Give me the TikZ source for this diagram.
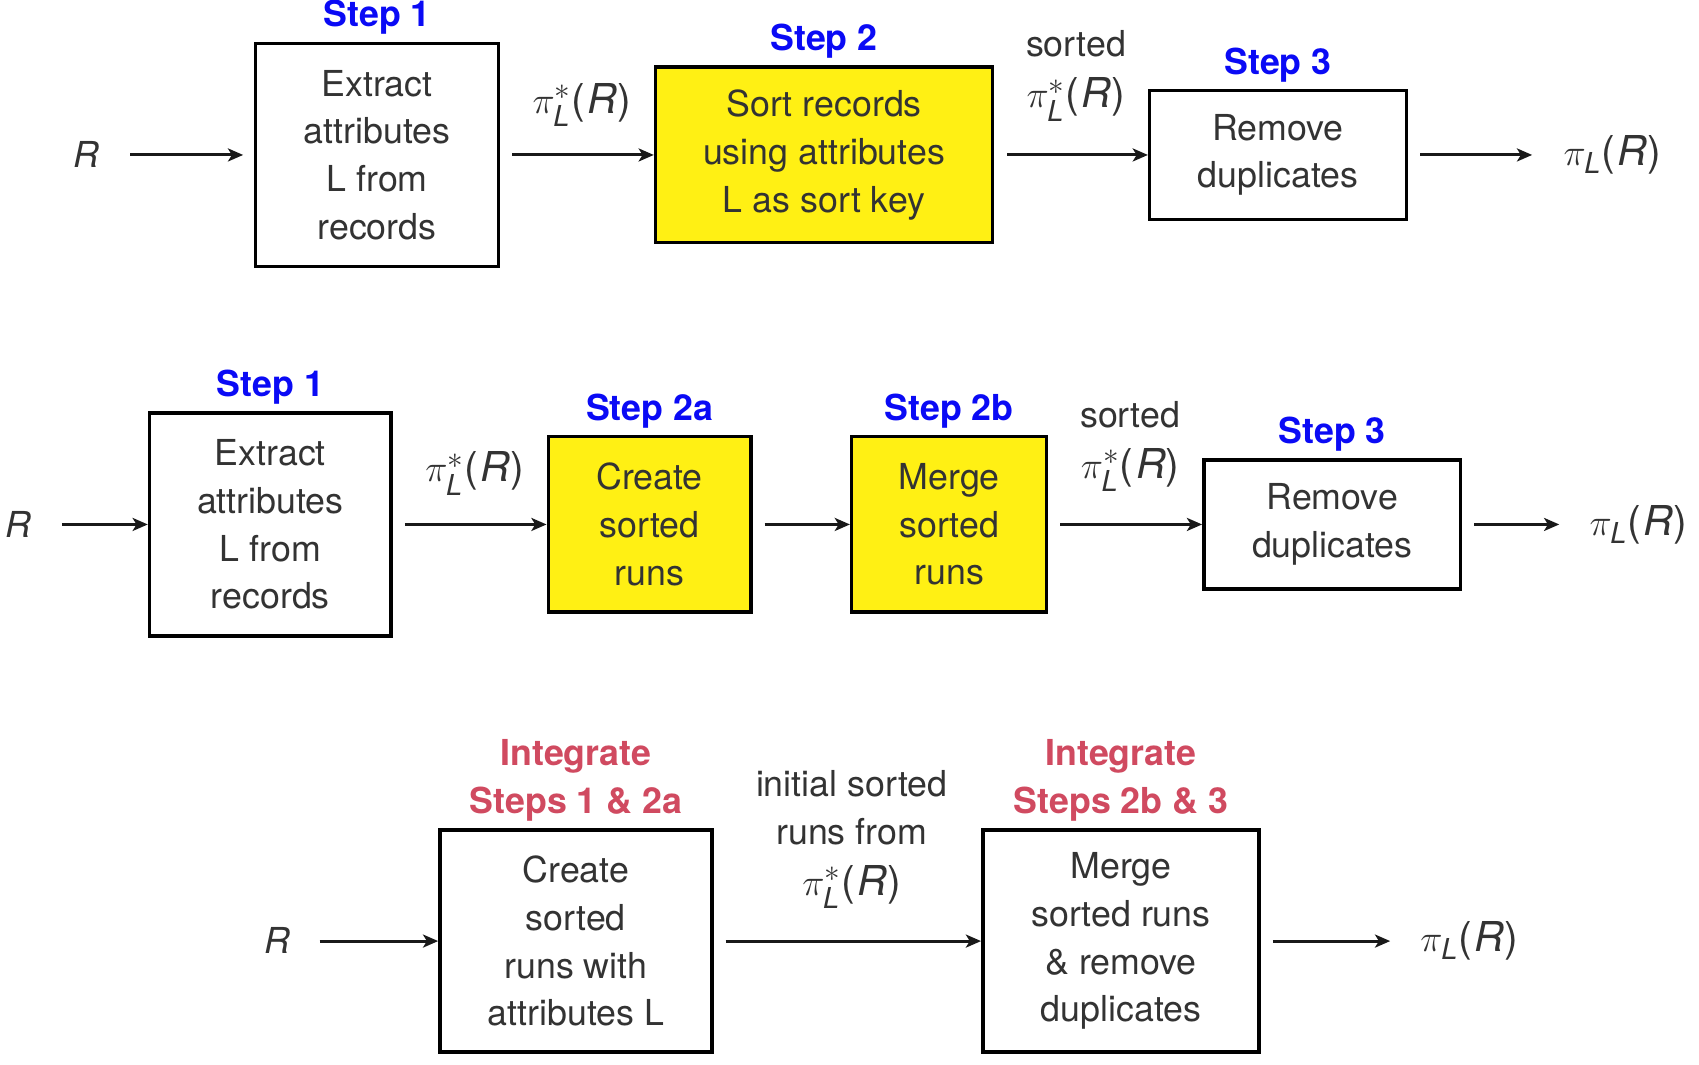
\documentclass[tikz,border=0pt]{standalone}
\usepackage{amsmath}
\usepackage{fontspec}
\setmainfont{TeX Gyre Heros}
\usetikzlibrary{arrows.meta,calc}
\definecolor{txt}{HTML}{333333}
\definecolor{stepblue}{HTML}{0A0AF5}
\definecolor{intred}{HTML}{D04A60}
\definecolor{boxyellow}{RGB}{255,240,20}
\newcommand{\mth}[1]{{\fontsize{19}{22}\selectfont #1}}
\newcommand{\pis}{\mth{$\pi^{*}_{\textit{L}}$(\kern1.2pt\textit{R})}}
\newcommand{\pil}{\mth{$\pi_{\textit{L}}$(\kern1.2pt\textit{R})}}
\tikzset{
  base font/.style={font=\fontsize{16.5}{22}\selectfont},
  box/.style={draw=black, line width=1.6pt, base font, text=txt, align=center, inner sep=0pt},
  ybox/.style={box, fill=boxyellow},
  plain/.style={base font, text=txt, align=center, inner sep=0pt},
  steplab/.style={font=\fontsize{16.5}{22}\selectfont\bfseries, text=stepblue, align=center, inner sep=0pt, anchor=south, yshift=3pt},
  intlab/.style={steplab, text=intred},
  arr/.style={-{Stealth[length=7pt,width=6pt,inset=1.8pt]}, line width=1.4pt, black!90}
}
\begin{document}
\begin{tikzpicture}[x=0.5pt,y=-0.5pt]
\useasboundingbox (0,0) rectangle (1568,982);
% ---------------- Row 1 ----------------
\node[plain] (r1in) at (80,143) {\textit{R}};
\node[box, minimum width=112pt, minimum height=103pt] (b11) at (348,143) {Extract\\attributes\\L from\\records};
\node[ybox, minimum width=155.5pt, minimum height=81pt] (b12) at (760.5,143) {Sort records\\using attributes\\L as sort key};
\node[box, minimum width=118.5pt, minimum height=59.5pt] (b13) at (1179.5,143) {Remove\\duplicates};
\node[plain] (r1out) at (1488,143) {\pil};
\node[steplab] (s11) at (b11.north) {Step 1};
\node[steplab] (s12) at (b12.north) {Step 2};
\node[steplab] (s13) at (b13.north) {Step 3};
\node[plain] (l11) at (537,97) {\pis};
\node[plain] (l12) at (993,70) {sorted\\[1.5pt]\pis};
\draw[arr] ($(b11.west -| r1in.center)+(20pt,0)$) -- ([xshift=-5pt]b11.west);
\draw[arr] ([xshift=5.5pt]b11.east) -- (b12.west);
\draw[arr] ([xshift=6pt]b12.east) -- (b13.west);
\draw[arr] ([xshift=5.5pt]b13.east) -- ($(b13.east -| r1out.center)+(-37pt,0)$);
% ---------------- Row 2 ----------------
\node[plain] (r2in) at (17,484) {\textit{R}};
\node[box, minimum width=111.5pt, minimum height=103pt] (b21) at (249.5,484) {Extract\\attributes\\L from\\records};
\node[ybox, minimum width=93.5pt, minimum height=81pt] (b22) at (599.5,484) {Create\\sorted\\runs};
\node[ybox, minimum width=90pt, minimum height=81pt] (b23) at (876,484) {Merge\\sorted\\runs};
\node[box, minimum width=118.5pt, minimum height=59.5pt] (b24) at (1229.5,484) {Remove\\duplicates};
\node[plain] (r2out) at (1512,484) {\pil};
\node[steplab] (s21) at (b21.north) {Step 1};
\node[steplab] (s22) at (b22.north) {Step 2a};
\node[steplab] (s23) at (b23.north) {Step 2b};
\node[steplab] (s24) at (b24.north) {Step 3};
\node[plain] (l21) at (438,437) {\pis};
\node[plain] (l22) at (1043,412) {sorted\\[1.5pt]\pis};
\draw[arr] ($(b21.west -| r2in.center)+(20pt,0)$) -- (b21.west);
\draw[arr] ([xshift=5.5pt]b21.east) -- (b22.west);
\draw[arr] ([xshift=5.5pt]b22.east) -- (b23.west);
\draw[arr] ([xshift=5.5pt]b23.east) -- (b24.west);
\draw[arr] ([xshift=5.5pt]b24.east) -- ($(b24.east -| r2out.center)+(-36.5pt,0)$);
% ---------------- Row 3 ----------------
\node[plain] (r3in) at (256,868) {\textit{R}};
\node[box, minimum width=125.5pt, minimum height=102.5pt] (b31) at (531.5,868.5) {Create\\sorted\\runs with\\attributes L};
\node[box, minimum width=127.5pt, minimum height=102.5pt] (b32) at (1034.5,868.5) {Merge\\sorted runs\\\& remove\\duplicates};
\node[plain] (r3out) at (1356,868) {\pil};
\node[intlab] (s31) at (b31.north) {Integrate\\Steps 1 \& 2a};
\node[intlab] (s32) at (b32.north) {Integrate\\Steps 2b \& 3};
\node[plain] (l31) at (786,775) {initial sorted\\runs from\\[1.5pt]\pis};
\draw[arr] ($(b31.west -| r3in.center)+(19.5pt,0)$) -- (b31.west);
\draw[arr] ([xshift=5.5pt]b31.east) -- (b32.west);
\draw[arr] ([xshift=5.5pt]b32.east) -- ($(b32.east -| r3out.center)+(-36.5pt,0)$);
\end{tikzpicture}
\end{document}
